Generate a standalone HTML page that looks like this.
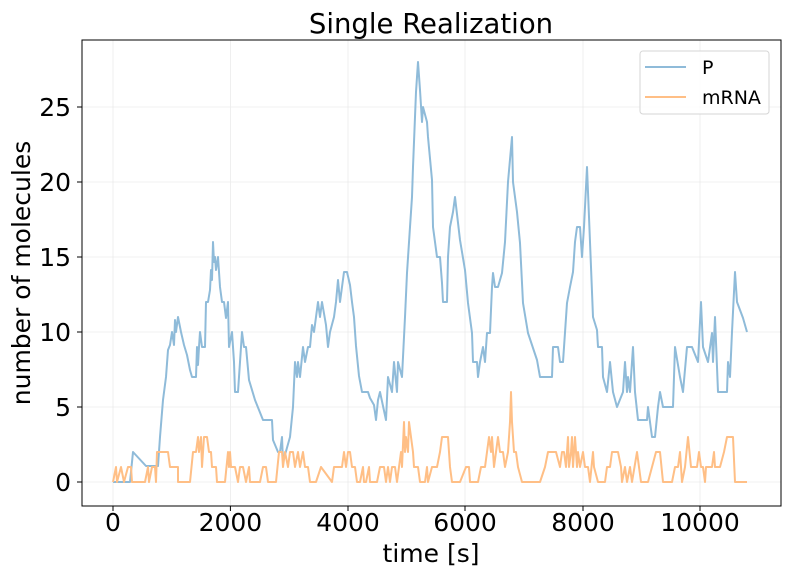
<!DOCTYPE html>
<html><head><meta charset="utf-8"><style>
body{margin:0;background:#fff;}
svg text{font-family:"DejaVu Sans","Liberation Sans",sans-serif;fill:#000;}
</style></head><body>
<svg id="s" width="788" height="576" viewBox="0 0 788 576" xmlns="http://www.w3.org/2000/svg">
<rect width="788" height="576" fill="#fff"/>
<g stroke="#ebebeb" stroke-width="0.8">
<line x1="113" y1="40" x2="113" y2="506"/><line x1="230.4" y1="40" x2="230.4" y2="506"/><line x1="348" y1="40" x2="348" y2="506"/><line x1="465" y1="40" x2="465" y2="506"/><line x1="583" y1="40" x2="583" y2="506"/><line x1="700" y1="40" x2="700" y2="506"/>
<line x1="82" y1="482" x2="781" y2="482"/><line x1="82" y1="407" x2="781" y2="407"/><line x1="82" y1="332" x2="781" y2="332"/><line x1="82" y1="257" x2="781" y2="257"/><line x1="82" y1="182" x2="781" y2="182"/><line x1="82" y1="107" x2="781" y2="107"/>
</g>
<polyline id="p" fill="none" stroke="#8fbbd9" stroke-width="2" stroke-linejoin="round"/>
<polyline id="m" fill="none" stroke="#ffbf86" stroke-width="2" stroke-linejoin="round"/>
<rect x="82" y="40" width="699" height="466" fill="none" stroke="#000" stroke-width="1"/>
<g stroke="#000" stroke-width="1">
<line x1="113" y1="506" x2="113" y2="511"/><line x1="230.4" y1="506" x2="230.4" y2="511"/><line x1="348" y1="506" x2="348" y2="511"/><line x1="465" y1="506" x2="465" y2="511"/><line x1="583" y1="506" x2="583" y2="511"/><line x1="700" y1="506" x2="700" y2="511"/>
<line x1="77" y1="482" x2="82" y2="482"/><line x1="77" y1="407" x2="82" y2="407"/><line x1="77" y1="332" x2="82" y2="332"/><line x1="77" y1="257" x2="82" y2="257"/><line x1="77" y1="182" x2="82" y2="182"/><line x1="77" y1="107" x2="82" y2="107"/>
</g>
<g font-size="25" text-anchor="middle">
<text x="113" y="531">0</text><text x="230.4" y="531">2000</text><text x="348" y="531">4000</text><text x="465" y="531">6000</text><text x="583" y="531">8000</text><text x="700" y="531">10000</text>
</g>
<g font-size="25" text-anchor="end">
<text x="71" y="491">0</text><text x="71" y="416">5</text><text x="71" y="341">10</text><text x="71" y="266">15</text><text x="71" y="191">20</text><text x="71" y="116">25</text>
</g>
<text x="431" y="562" font-size="25" text-anchor="middle">time [s]</text>
<text transform="translate(30,273) rotate(-90)" font-size="25" text-anchor="middle">number of molecules</text>
<text x="431" y="33" font-size="27.5" text-anchor="middle">Single Realization</text>
<rect x="640" y="51" width="129" height="63" rx="3" fill="#fff" fill-opacity="0.8" stroke="#d6d6d6"/>
<line x1="645" y1="67" x2="686" y2="67" stroke="#8fbbd9" stroke-width="2"/>
<line x1="645" y1="97" x2="686" y2="97" stroke="#ffbf86" stroke-width="2"/>
<text x="702" y="74" font-size="19">P</text>
<text x="702" y="104" font-size="19">mRNA</text>
</svg>
<script>
var P=[113,482,130,482,133,452,146,466,158,466,160,437,163,400,166,377,168,350,170,345,172,332,174,345,175,320,176,332,178,317,181,332,184,345,187,355,190,370,192,377,196,377,197,347,198,365,199,347,200,332,202,347,205,347,206,302,208,302,210,290,211,270,212,280,213,242,214,262,215,257,216,270,218,257,220,287,222,302,224,302,226,318,228,302,229,347,232,332,234,362,235,392,238,392,240,362,242,332,244,347,246,347,249,380,255,400,263,420,272,420,273,440,278,452,280,452,282,437,283,462,290,437,293,407,295,362,297,377,298,362,300,377,303,347,305,362,308,347,310,347,312,325,314,332,318,302,320,317,322,302,326,325,328,347,330,332,334,317,336,302,338,280,340,302,342,287,344,272,347,272,350,285,352,302,354,317,356,346,359,376,362,392,368,392,370,398,374,405,376,420,378,400,380,392,386,420,388,377,392,392,394,362,397,392,398,362,402,377,405,317,407,273,410,227,412,197,413,167,416,92,418,62,420,90,422,122,423,107,427,122,428,137,432,180,433,227,437,257,440,257,442,283,443,302,447,302,448,257,450,227,453,212,455,197,460,240,465,270,468,303,472,333,473,362,477,362,478,377,480,362,483,347,485,362,487,333,490,333,492,287,493,273,495,287,498,287,502,273,505,242,508,182,512,137,513,182,517,212,520,243,523,303,528,333,537,360,540,377,552,377,553,347,558,347,560,362,563,362,567,303,570,287,573,272,575,242,577,227,580,227,582,257,584,227,587,167,590,242,593,317,597,330,598,347,602,347,603,377,607,392,610,362,613,392,617,407,623,392,625,362,627,392,628,377,630,392,633,347,635,392,638,420,647,420,648,407,652,437,655,437,658,407,660,392,663,407,673,407,675,347,680,377,683,392,687,347,692,347,698,362,701,302,703,347,708,362,712,333,713,362,715,317,718,392,727,392,728,362,730,377,732,332,735,272,737,302,743,318,747,332];
var M=[113,0,116,1,117,0,121,1,124,0,128,1,131,1,132,0,145,0,148,1,149,0,152,1,155,1,156,0,157,2,168,2,170,1,178,1,178,0,190,0,193,2,196,2,198,3,199,2,201,3,202,1,204,3,207,3,209,2,211,2,212,1,216,1,217,0,225,0,228,2,229,1,230,2,231,1,235,1,238,0,240,1,243,1,246,0,249,1,250,0,260,0,263,1,266,1,268,0,276,0,279,2,282,2,283,1,285,2,288,1,290,2,293,2,295,1,298,2,300,1,303,2,305,1,308,1,310,0,316,0,321,1,332,0,334,1,342,1,344,2,346,1,348,2,350,2,352,1,355,1,357,0,360,0,363,1,364,0,366,0,369,1,370,0,377,0,380,1,384,1,386,0,388,1,390,0,392,1,395,1,397,0,401,2,402,1,404,4,405,2,406,3,408,2,409,4,411,3,413,2,414,1,418,1,420,0,425,0,427,1,428,0,432,1,437,1,440,2,442,3,448,3,450,1,452,0,460,0,466,1,469,1,470,0,478,0,481,1,485,1,487,2,489,3,491,2,492,3,494,1,496,2,498,3,500,2,503,2,505,1,508,2,510,4,511,6,512,4,514,2,516,2,518,1,522,0,540,0,545,1,548,2,556,2,560,1,562,2,564,2,566,1,568,3,569,1,571,2,572,3,573,1,575,3,577,1,578,2,580,1,583,2,585,1,588,1,590,0,593,2,594,1,598,0,605,0,607,1,610,1,612,2,618,2,621,1,622,0,625,1,627,0,630,1,632,0,637,2,641,0,648,0,652,1,656,2,660,2,663,0,672,0,675,1,678,1,680,2,682,0,685,1,688,3,691,1,697,1,699,2,701,1,703,1,705,0,706,1,712,1,714,2,715,1,720,1,724,2,727,3,733,3,735,0,747,0];
var a=[],b=[];
for(var i=0;i<P.length;i+=2)a.push(P[i]+","+P[i+1]);
for(var i=0;i<M.length;i+=2)b.push(M[i]+","+(482-15*M[i+1]));
document.getElementById("p").setAttribute("points",a.join(" "));
document.getElementById("m").setAttribute("points",b.join(" "));
</script>
</body></html>
